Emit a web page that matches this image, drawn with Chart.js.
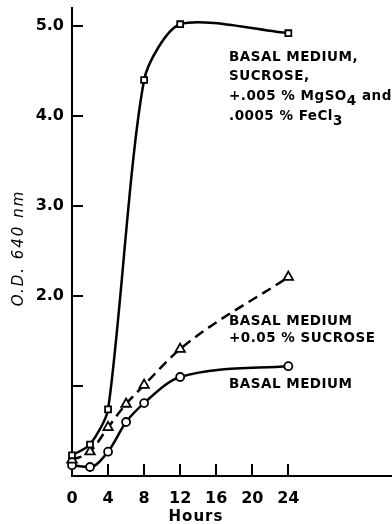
<!DOCTYPE html>
<html>
<head>
<meta charset="utf-8">
<script src="https://cdn.jsdelivr.net/npm/chart.js@4/dist/chart.umd.min.js"></script>
<style>
  html, body { margin: 0; padding: 0; background: #fff; }
  #wrap { width: 392px; height: 524px; position: relative; }
</style>
</head>
<body>
<div id="wrap"><canvas id="c" width="392" height="524"></canvas></div>
<script>
// ---- data ----
const hoursSucroseMg = [0, 2, 4, 8, 12, 24];
const odSucroseMg    = [0.23, 0.35, 0.74, 4.40, 5.02, 4.92];

const hoursSucrose   = [0, 2, 4, 6, 8, 12, 24];
const odSucrose      = [0.18, 0.27, 0.54, 0.80, 1.01, 1.41, 2.21];

const hoursBasal     = [0, 2, 4, 6, 8, 12, 24];
const odBasal        = [0.12, 0.10, 0.27, 0.60, 0.81, 1.10, 1.22];

const xTickValues = [0, 4, 8, 12, 16, 20, 24];
const xTickLabels = ['0', '4', '8', '12', '16', '20', '24'];
const yTickValues = [0, 1, 2, 3, 4, 5];
const yTickLabels = ['', '', '2.0', '3.0', '4.0', '5.0'];

const xTitle = 'Hours';
const yTitle = 'O.D. 640 nm';

const labelA = [
  [{t: 'BASAL MEDIUM,'}],
  [{t: 'SUCROSE,'}],
  [{t: '+.005 % MgSO'}, {t: '4', sub: true}, {t: ' and'}],
  [{t: '.0005 % FeCl'}, {t: '3', sub: true}]
];
const labelB = [[{t: 'BASAL MEDIUM'}], [{t: '+0.05 % SUCROSE'}]];
const labelC = [[{t: 'BASAL MEDIUM'}]];

const toXY = (xs, ys) => xs.map((x, i) => ({x: x, y: ys[i]}));

const FONT = '"DejaVu Sans", sans-serif';

const decor = {
  id: 'decor',
  afterDraw(chart) {
    const ctx = chart.ctx;
    const xs = chart.scales.x, ys = chart.scales.y;
    const ca = chart.chartArea;
    ctx.save();
    ctx.strokeStyle = '#000';
    ctx.lineWidth = 2;
    // inside tick marks on y axis
    yTickValues.forEach(v => {
      if (v === 0) return;
      const py = Math.round(ys.getPixelForValue(v));
      ctx.beginPath(); ctx.moveTo(ca.left, py); ctx.lineTo(ca.left + 11, py); ctx.stroke();
    });
    // inside tick marks on x axis
    xTickValues.forEach(v => {
      if (v === 0) return;
      const px = Math.round(xs.getPixelForValue(v));
      ctx.beginPath(); ctx.moveTo(px, ca.bottom); ctx.lineTo(px, ca.bottom - 12); ctx.stroke();
    });

    // axis titles
    ctx.fillStyle = '#000';
    ctx.font = '600 15px ' + FONT;
    ctx.textAlign = 'center';
    ctx.textBaseline = 'alphabetic';
    ctx.letterSpacing = '1px';
    ctx.fillText(xTitle, 196, 521);

    ctx.save();
    ctx.translate(23, 248);
    ctx.rotate(-Math.PI / 2);
    ctx.font = 'italic 15px ' + FONT;
    ctx.letterSpacing = '2px';
    ctx.fillText(yTitle, 0, 0);
    ctx.restore();

    // annotations
    const drawBlock = (lines, x, baselines) => {
      lines.forEach((segs, i) => {
        let cx = x;
        const by = baselines[i];
        segs.forEach(s => {
          ctx.font = 'bold 13.5px ' + FONT;
          ctx.letterSpacing = '0.5px';
          ctx.textAlign = 'left';
          const yy = s.sub ? by + 5 : by;
          ctx.fillText(s.t, cx, yy);
          cx += ctx.measureText(s.t).width;
        });
      });
    };
    drawBlock(labelA, 229, [60.5, 80, 100, 120]);
    drawBlock(labelB, 229, [324.5, 342]);
    drawBlock(labelC, 229, [388]);
    ctx.restore();
  }
};

const common = {
  borderColor: '#000',
  borderWidth: 2.5,
  pointBackgroundColor: '#fff',
  pointBorderColor: '#000',
  pointBorderWidth: 1.8,
  cubicInterpolationMode: 'monotone',
  clip: false,
  fill: false
};

const zeroPad = (s) => { s.paddingTop = 0; s.paddingBottom = 0; s.paddingLeft = 0; s.paddingRight = 0; };

new Chart(document.getElementById('c'), {
  type: 'line',
  data: {
    datasets: [
      Object.assign({}, common, {
        label: 'Basal medium, sucrose, +.005% MgSO4 and .0005% FeCl3',
        data: toXY(hoursSucroseMg, odSucroseMg),
        cubicInterpolationMode: 'default',
        tension: 0.25,
        pointStyle: 'rect', pointRadius: 4.2
      }),
      Object.assign({}, common, {
        label: 'Basal medium +0.05% sucrose',
        data: toXY(hoursSucrose, odSucrose),
        pointStyle: 'triangle', pointRadius: 5.5,
        borderDash: [10, 6]
      }),
      Object.assign({}, common, {
        label: 'Basal medium',
        data: toXY(hoursBasal, odBasal),
        pointStyle: 'circle', pointRadius: 4
      })
    ]
  },
  options: {
    responsive: false,
    animation: false,
    events: [],
    layout: { autoPadding: false, padding: { top: 8, right: 0, left: 0, bottom: 0 } },
    plugins: { legend: { display: false }, tooltip: { enabled: false }, title: { display: false } },
    scales: {
      x: {
        type: 'linear', min: 0, max: 35.5,
        afterFit(s) { s.height = 48; zeroPad(s); },
        afterBuildTicks(s) { s.ticks = xTickValues.map(v => ({value: v})); },
        grid: { drawOnChartArea: false, drawTicks: false },
        border: { display: true, color: '#000', width: 2 },
        ticks: {
          color: '#000', padding: 13, maxRotation: 0, autoSkip: false,
          font: { family: FONT, size: 16, weight: '600' },
          callback: (v) => { const i = xTickValues.indexOf(v); return i >= 0 ? xTickLabels[i] : ''; }
        }
      },
      y: {
        type: 'linear', min: 0, max: 5.2,
        afterFit(s) { s.width = 72; zeroPad(s); },
        afterBuildTicks(s) { s.ticks = yTickValues.map(v => ({value: v})); },
        grid: { drawOnChartArea: false, drawTicks: false },
        border: { display: true, color: '#000', width: 2 },
        ticks: {
          color: '#000', padding: 8, autoSkip: false,
          font: { family: FONT, size: 16, weight: '600' },
          callback: (v) => { const i = yTickValues.indexOf(v); return i >= 0 ? yTickLabels[i] : ''; }
        }
      }
    }
  },
  plugins: [decor]
});
</script>
</body>
</html>
